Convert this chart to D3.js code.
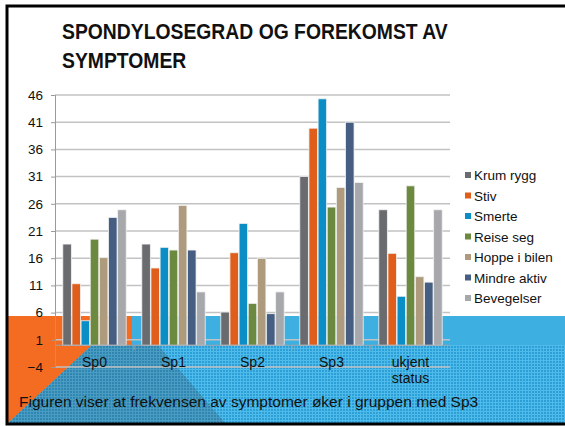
<!DOCTYPE html>
<html>
<head>
<meta charset="utf-8">
<script src="https://cdn.jsdelivr.net/npm/d3@7"></script>
<style>
  html, body { margin: 0; padding: 0; background: #fff; }
  #chart { width: 565px; height: 426px; }
  text { font-family: "Liberation Sans", Arial, sans-serif; }
</style>
</head>
<body>
<div id="chart"></div>
<script>
// data
const categories = ["Sp0", "Sp1", "Sp2", "Sp3", "ukjent status"];
const seriesNames = ["Krum rygg", "Stiv", "Smerte", "Reise seg", "Hoppe i bilen", "Mindre aktiv", "Bevegelser"];
const krumRygg    = [18.6, 18.6, 6.1, 31.0, 24.9];
const stiv        = [11.3, 14.2, 17.0, 39.9, 16.9];
const smerte      = [4.5, 18.0, 22.4, 45.3, 9.0];
const reiseSeg    = [19.5, 17.5, 7.7, 25.4, 29.3];
const hoppeIBilen = [16.1, 25.7, 16.0, 29.0, 12.6];
const mindreAktiv = [23.5, 17.5, 5.8, 41.0, 11.6];
const bevegelser  = [24.9, 9.8, 9.8, 29.9, 24.9];
const yTicks = [-4, 1, 6, 11, 16, 21, 26, 31, 36, 41, 46];
const seriesValues = [krumRygg, stiv, smerte, reiseSeg, hoppeIBilen, mindreAktiv, bevegelser];
const colors = ["#696b6f", "#e05e1b", "#0b8dc6", "#6c8a3f", "#ae9b7e", "#455e81", "#a6a8ab"];

const width = 565, height = 426;
const svg = d3.select("#chart").append("svg")
  .attr("width", width)
  .attr("height", height);

// slide decoration
const defs = svg.append("defs");
function dots(id, base, dot) {
  const p = defs.append("pattern").attr("id", id)
    .attr("width", 3).attr("height", 3).attr("patternUnits", "userSpaceOnUse");
  p.append("rect").attr("width", 3).attr("height", 3).attr("fill", base);
  p.append("rect").attr("width", 3).attr("height", 1).attr("fill", dot);
  p.append("rect").attr("width", 1).attr("height", 3).attr("fill", dot);
}
dots("blueDots", "#2b9fd6", "#4fbbea");
dots("tealDots", "#2f86b0", "#4a9cc2");

const deco = svg.append("g").attr("class", "deco");
deco.append("rect").attr("x", 7).attr("y", 316).attr("width", 125).attr("height", 108).attr("fill", "#f36c21");
deco.append("rect").attr("x", 132).attr("y", 316).attr("width", 440).attr("height", 108).attr("fill", "#3db0e1");
deco.append("polygon")
  .attr("points", "92,345 570,345 570,424 7,424")
  .attr("fill", "url(#blueDots)");
deco.append("polygon")
  .attr("points", "7,424 92,345 158,345 226,424")
  .attr("fill", "url(#tealDots)");

// frame
svg.append("rect")
  .attr("x", 7).attr("y", 6)
  .attr("width", 580).attr("height", 418)
  .attr("fill", "none").attr("stroke", "#000").attr("stroke-width", 3);

// title (squeezed to the narrow look of the slide font)
const title = svg.append("text")
  .attr("font-size", "22px")
  .attr("font-weight", "bold")
  .attr("fill", "#111");
const line1 = title.append("tspan").attr("x", 0).attr("y", 39).text("SPONDYLOSEGRAD OG FOREKOMST AV");
title.append("tspan").attr("x", 0).attr("y", 68).text("SYMPTOMER");
const sx = 386 / line1.node().getComputedTextLength();
title.attr("transform", `translate(62,0) scale(${sx},1)`);

// scales
const margin = { left: 55, top: 95, right: 450, bottom: 367 };
const x0 = d3.scaleBand().domain(categories).range([margin.left, margin.right]);
const x1 = d3.scaleBand().domain(seriesNames).range([0, x0.bandwidth() * 0.81]);
const groupOffset = (x0.bandwidth() - x0.bandwidth() * 0.81) / 2;
const y = d3.scaleLinear().domain([-4, 46]).range([margin.bottom, margin.top]);

const main = svg.append("g");

// gridlines
main.append("g").selectAll("line").data(yTicks).join("line")
  .attr("x1", margin.left).attr("x2", margin.right)
  .attr("y1", d => y(d)).attr("y2", d => y(d))
  .attr("stroke", "#c2c2c2").attr("stroke-width", 1.5);

// y axis
const yAxis = d3.axisLeft(y).tickValues(yTicks).tickSize(4).tickPadding(8);
const gy = main.append("g").attr("transform", `translate(${margin.left},0)`).call(yAxis);
gy.select(".domain").attr("stroke", "#9a9a9a");
gy.selectAll(".tick line").attr("stroke", "#9a9a9a");
gy.selectAll(".tick text").attr("font-size", "13.5px").attr("fill", "#111")
  .style("font-family", "'Liberation Sans', Arial, sans-serif");

// bars
const groups = main.append("g").selectAll("g").data(categories).join("g")
  .attr("transform", d => `translate(${x0(d) + groupOffset},0)`);
groups.selectAll("rect")
  .data((c, ci) => seriesNames.map((s, si) => ({ s, si, v: seriesValues[si][ci] })))
  .join("rect")
  .attr("x", d => x1(d.s) + 0.3)
  .attr("width", x1.bandwidth() - 0.6)
  .attr("y", d => y(d.v))
  .attr("height", d => y(0) - y(d.v))
  .attr("fill", d => colors[d.si])
  .attr("stroke", "#f2f2f2").attr("stroke-width", 0.8);

// category axis at 0
main.append("line")
  .attr("x1", margin.left).attr("x2", margin.right)
  .attr("y1", y(0)).attr("y2", y(0))
  .attr("stroke", "#9aa5ad").attr("stroke-width", 1);
main.append("g").selectAll("line").data(categories.slice(1)).join("line")
  .attr("x1", d => x0(d)).attr("x2", d => x0(d))
  .attr("y1", y(0)).attr("y2", y(0) + 5)
  .attr("stroke", "#9aa5ad");

// category labels
const catLabels = main.append("g").selectAll("text").data(categories).join("text")
  .attr("x", d => x0(d) + x0.bandwidth() / 2)
  .attr("y", 367)
  .attr("text-anchor", "middle")
  .attr("font-size", "14px")
  .attr("fill", "#111");
catLabels.each(function (d) {
  const words = d.split(" ");
  const t = d3.select(this);
  words.forEach((w, i) => {
    t.append("tspan").attr("x", x0(d) + x0.bandwidth() / 2).attr("dy", i === 0 ? 0 : 16).text(w);
  });
});

// legend
const legend = svg.append("g").attr("transform", "translate(465,175)");
const li = legend.selectAll("g").data(seriesNames).join("g")
  .attr("transform", (d, i) => `translate(0,${i * 20.5})`);
li.append("rect").attr("x", 0).attr("y", -3).attr("width", 6).attr("height", 6)
  .attr("fill", (d, i) => colors[i]);
li.append("text").attr("x", 9).attr("y", 5)
  .attr("font-size", "13.5px").attr("fill", "#111")
  .text(d => d);

// footnote
svg.append("text")
  .attr("x", 19).attr("y", 407)
  .attr("font-size", "15.5px").attr("fill", "#111")
  .text("Figuren viser at frekvensen av symptomer øker i gruppen med Sp3");
</script>
</body>
</html>
